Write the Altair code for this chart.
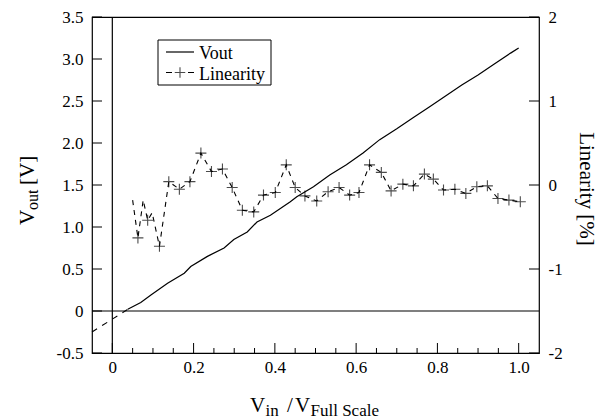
import altair as alt
import pandas as pd

# Transfer curve of the converter
vin = [0.038, 0.070, 0.095, 0.136, 0.177, 0.193, 0.234, 0.275, 0.299, 0.332,
       0.356, 0.389, 0.438, 0.454, 0.495, 0.535, 0.576, 0.617, 0.658, 0.700,
       0.740, 0.780, 0.820, 0.860, 0.900, 0.940, 0.980, 1.000]
vout = [0.02, 0.10, 0.19, 0.33, 0.45, 0.53, 0.65, 0.75, 0.85, 0.94,
        1.06, 1.14, 1.30, 1.36, 1.48, 1.62, 1.74, 1.88, 2.04, 2.17,
        2.30, 2.43, 2.56, 2.69, 2.81, 2.94, 3.07, 3.13]

# Straight-line extrapolation towards the origin
ext_vin = [-0.05, 0.038]
ext_vout = [-0.25, 0.02]

# Linearity error in percent
lin_x = [0.050, 0.063, 0.076, 0.087, 0.098, 0.116, 0.139, 0.165, 0.191, 0.218,
         0.244, 0.271, 0.295, 0.320, 0.348, 0.372, 0.401, 0.428, 0.450, 0.474,
         0.503, 0.531, 0.558, 0.584, 0.607, 0.633, 0.662, 0.686, 0.715, 0.741,
         0.768, 0.790, 0.815, 0.843, 0.870, 0.897, 0.923, 0.949, 0.976, 1.004]
lin_y = [-0.18, -0.63, -0.18, -0.42, -0.33, -0.73, 0.04, -0.05, 0.04, 0.38,
         0.16, 0.19, -0.03, -0.30, -0.32, -0.12, -0.09, 0.24, -0.03, -0.13,
         -0.19, -0.08, -0.03, -0.12, -0.09, 0.24, 0.15, -0.07, 0.01, -0.01,
         0.13, 0.07, -0.06, -0.05, -0.10, -0.02, -0.01, -0.16, -0.18, -0.20]
lin_marked = [False, True, False, True, False, True] + [True] * 34

# Axis tick positions
x_major = [0.0, 0.2, 0.4, 0.6, 0.8, 1.0]
x_minor = [0.05, 0.1, 0.15, 0.25, 0.3, 0.35, 0.45, 0.5, 0.55, 0.65, 0.7,
           0.75, 0.85, 0.9, 0.95]
left_ticks = [-0.5, 0.0, 0.5, 1.0, 1.5, 2.0, 2.5, 3.0, 3.5]
right_ticks = [-2, -1, 0, 1, 2]

W, H = 447, 336
FONT = "Liberation Serif"

x_scale = alt.Scale(domain=[-0.05, 1.05], nice=False, zero=False)
yl_scale = alt.Scale(domain=[-0.5, 3.5], nice=False, zero=False)
yr_scale = alt.Scale(domain=[-2, 2], nice=False, zero=False)

x_axis = alt.Axis(values=x_major, title=None, ticks=False, domain=False, grid=False,
                  labelPadding=6, labelFontSize=17, labelFont=FONT, labelColor="black",
                  labelExpr="datum.value == 0 ? '0' : format(datum.value, '.1f')")
yl_axis = alt.Axis(values=left_ticks, title=None, ticks=False, domain=False, grid=False,
                   labelPadding=9, labelFontSize=17, labelFont=FONT, labelColor="black",
                   labelExpr="datum.value == 0 ? '0' : (datum.value < 0 ? '-' + format(-datum.value, '.1f') : format(datum.value, '.1f'))")
yr_axis = alt.Axis(values=right_ticks, orient="right", title=None, ticks=False, domain=False,
                   grid=False, labelPadding=9, labelFontSize=17, labelFont=FONT,
                   labelColor="black",
                   labelExpr="datum.value < 0 ? '-' + format(-datum.value, 'd') : format(datum.value, 'd')")

X = lambda f: alt.X(f, scale=x_scale, axis=x_axis)
YL = lambda f: alt.Y(f, scale=yl_scale, axis=yl_axis)
YR = lambda f: alt.Y(f, scale=yr_scale, axis=yr_axis)

vout_df = pd.DataFrame({"vin": vin, "vout": vout})
ext_df = pd.DataFrame({"vin": ext_vin, "vout": ext_vout})
lin_df = pd.DataFrame({"vin": lin_x, "lin": lin_y, "marked": lin_marked})
zero_df = pd.DataFrame({"z": [0.0]})
one = pd.DataFrame({"k": [0]})

vout_line = alt.Chart(vout_df).mark_line(color="black", strokeWidth=1.2).encode(
    x=X("vin:Q"), y=YL("vout:Q"))
ext_line = alt.Chart(ext_df).mark_line(color="black", strokeWidth=1.1, strokeDash=[6, 6]).encode(
    x=X("vin:Q"), y=YL("vout:Q"))
h_zero = alt.Chart(zero_df).mark_rule(color="black", strokeWidth=1.2).encode(y=YL("z:Q"))
v_zero = alt.Chart(zero_df).mark_rule(color="black", strokeWidth=1.2).encode(x=X("z:Q"))

left_tk = alt.Chart(pd.DataFrame({"t": left_ticks})).mark_rule(color="black").encode(
    y=YL("t:Q"), x=alt.value(0), x2=alt.value(10))
xmaj_tk = alt.Chart(pd.DataFrame({"t": x_major})).mark_rule(color="black").encode(
    x=X("t:Q"), y=alt.value(H), y2=alt.value(H - 10))
xmin_tk = alt.Chart(pd.DataFrame({"t": x_minor})).mark_rule(color="black").encode(
    x=X("t:Q"), y=alt.value(H), y2=alt.value(H - 5))

# Axis titles with subscripts
def txt(s, x, y, size, angle=0, align="left"):
    return alt.Chart(one).mark_text(
        text=s, font=FONT, fontSize=size, color="black", align=align,
        baseline="alphabetic", angle=angle
    ).encode(x=alt.value(x), y=alt.value(y))

titles = [
    txt("V", 158, 395, 21), txt("in", 173.5, 399, 17),
    txt("/", 195, 395, 21), txt("V", 203, 395, 21), txt("Full Scale", 218.5, 399, 17),
    txt("V", -58, 208, 21, angle=270), txt("out", -54, 193, 16, angle=270),
    txt("[V]", -58, 168, 21, angle=270),
    txt("Linearity [%]", 488, 172, 21, angle=90, align="center"),
]

# Legend box
legend_box = alt.Chart(one).mark_rect(fill="white", stroke="black", strokeWidth=1).encode(
    x=alt.value(66), x2=alt.value(179), y=alt.value(23), y2=alt.value(68))
leg_solid = alt.Chart(one).mark_rule(color="black", strokeWidth=1.2).encode(
    x=alt.value(74), x2=alt.value(102), y=alt.value(35))
leg_dash = alt.Chart(one).mark_rule(color="black", strokeWidth=1.1, strokeDash=[6, 16]).encode(
    x=alt.value(74), x2=alt.value(102), y=alt.value(55.5))
leg_cross = alt.Chart(one).mark_point(
    shape="M-1,0L1,0M0,-1L0,1", size=110, color="black", strokeWidth=1.1, filled=False
).encode(x=alt.value(88), y=alt.value(55.5))
leg_texts = [txt("Vout", 107, 42, 18), txt("Linearity", 107, 62.5, 18)]

left_group = alt.layer(
    h_zero, v_zero, ext_line, vout_line, left_tk, xmaj_tk, xmin_tk,
    legend_box, leg_solid, leg_dash, leg_cross, *leg_texts, *titles)

lin_line = alt.Chart(lin_df).mark_line(color="black", strokeWidth=1.1, strokeDash=[5, 5]).encode(
    x=X("vin:Q"), y=YR("lin:Q"))
lin_pts = alt.Chart(lin_df).transform_filter("datum.marked").mark_point(
    shape="M-1,0L1,0M0,-1L0,1", size=121, color="black", strokeWidth=1.1, filled=False
).encode(x=X("vin:Q"), y=YR("lin:Q"))
right_tk = alt.Chart(pd.DataFrame({"t": right_ticks})).mark_rule(color="black").encode(
    y=YR("t:Q"), x=alt.value(W - 10), x2=alt.value(W))

right_group = alt.layer(lin_line, lin_pts, right_tk)

chart = alt.layer(left_group, right_group).resolve_scale(y="independent").properties(
    width=W, height=H,
    autosize=alt.AutoSizeParams(type="none"),
    padding={"left": 92, "top": 17, "right": 73, "bottom": 66},
).configure_view(stroke="black", strokeWidth=1.2)

chart.save("out.html", embed_options={"renderer": "svg", "actions": False})
